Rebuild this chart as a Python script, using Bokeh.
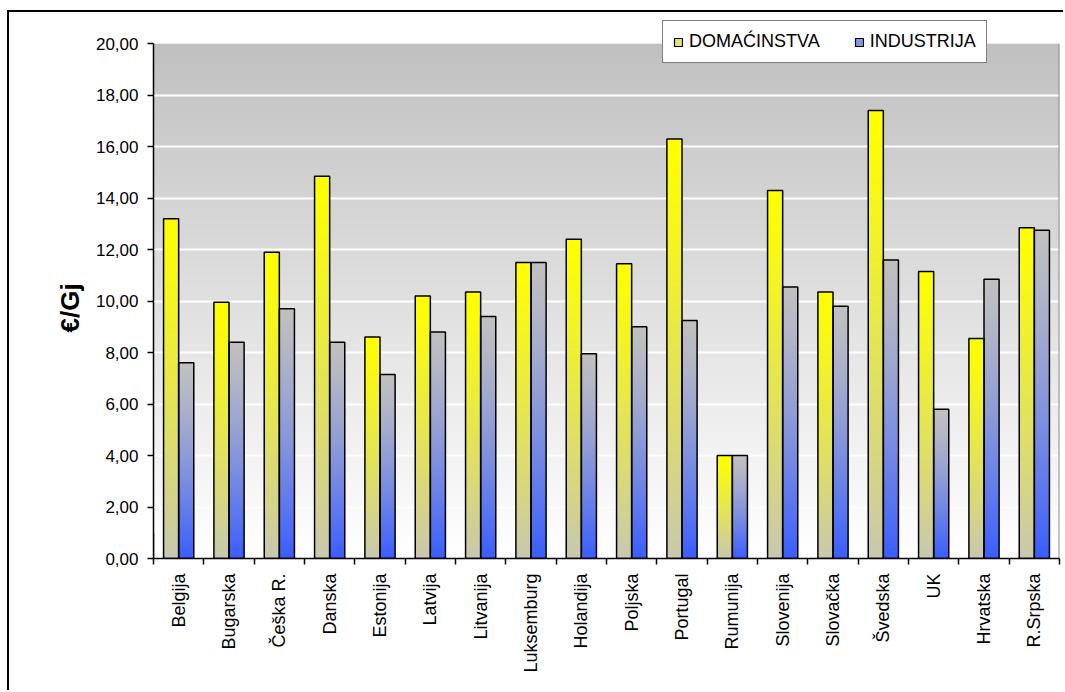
import math
import numpy as np
from bokeh.plotting import figure
from bokeh.models import Range1d, FixedTicker, Legend, LegendItem, Title
from bokeh.embed import file_html
from bokeh.resources import INLINE

# Gas prices by country, €/GJ
categories = ["Belgija", "Bugarska", "Češka R.", "Danska", "Estonija", "Latvija",
              "Litvanija", "Luksemburg", "Holandija", "Poljska", "Portugal", "Rumunija",
              "Slovenija", "Slovačka", "Švedska", "UK", "Hrvatska", "R.Srpska"]
domacinstva = [13.20, 9.95, 11.90, 14.85, 8.60, 10.20, 10.35, 11.50, 12.40, 11.45,
               16.30, 4.00, 14.30, 10.35, 17.40, 11.15, 8.55, 12.85]
industrija = [7.60, 8.40, 9.70, 8.40, 7.15, 8.80, 9.40, 11.50, 7.95, 9.00,
              9.25, 4.00, 10.55, 9.80, 11.60, 5.80, 10.85, 12.75]
series_names = ["DOMAĆINSTVA", "INDUSTRIJA"]
y_ticks = [0, 2, 4, 6, 8, 10, 12, 14, 16, 18, 20]
y_tick_labels = ["0,00", "2,00", "4,00", "6,00", "8,00", "10,00",
                 "12,00", "14,00", "16,00", "18,00", "20,00"]
y_title = "€/Gj"

FONT = "Liberation Sans"
BAR_W = 0.3
Y_MAX = 20
Y_TOP = 20.9  # head room above the plot area for the legend box


def gradient(top, bottom, n=256, gamma=1.0):
    """Vertical RGBA gradient, row 0 at the bottom."""
    t = np.linspace(0.0, 1.0, n) ** gamma  # 0 at top .. 1 at bottom
    t = t[::-1]
    top = np.array(top, dtype=float)
    bottom = np.array(bottom, dtype=float)
    cols = top[None, :] + (bottom - top)[None, :] * t[:, None]
    img = np.empty((n, 1), dtype=np.uint32)
    view = img.view(dtype=np.uint8).reshape((n, 1, 4))
    view[:, 0, 0] = cols[:, 0].round()
    view[:, 0, 1] = cols[:, 1].round()
    view[:, 0, 2] = cols[:, 2].round()
    view[:, 0, 3] = 255
    return img


n = len(categories)
idx = np.arange(n)

p = figure(width=1056, height=680, output_backend="svg", toolbar_location=None,
           x_range=Range1d(-0.5, n - 0.5), y_range=Range1d(0, Y_TOP),
           min_border_left=144, min_border_right=6, min_border_top=8,
           min_border_bottom=134)
p.background_fill_color = "white"
p.border_fill_color = "white"
p.outline_line_color = None
# chart border on the top and left edges of the page element
p.styles = {"margin-left": "7px", "margin-top": "10px",
            "border-left": "2px solid black", "border-top": "2px solid black"}

# plot-area background: grey at the top fading to white
bg = gradient((192, 192, 192), (255, 255, 255))
p.image_rgba(image=[bg], x=-0.5, y=0, dw=n, dh=Y_MAX, level="image")
# right edge of the plot area
p.segment(x0=[n - 0.5], y0=[0], x1=[n - 0.5], y1=[Y_MAX],
          line_color="#8c8c8c", line_width=2)

# bars with vertical gradients
yel = gradient((255, 255, 0), (200, 200, 176), gamma=1.15)
blu = gradient((192, 192, 192), (58, 94, 255), gamma=1.3)
x_dom = idx - BAR_W
x_ind = idx.astype(float)
p.image_rgba(image=[yel] * n, x=list(x_dom), y=[0] * n, dw=[BAR_W] * n, dh=domacinstva)
p.image_rgba(image=[blu] * n, x=list(x_ind), y=[0] * n, dw=[BAR_W] * n, dh=industrija)
p.vbar(x=list(x_dom + BAR_W / 2), width=BAR_W, top=domacinstva,
       fill_color=None, line_color="black", line_width=1.5)
p.vbar(x=list(x_ind + BAR_W / 2), width=BAR_W, top=industrija,
       fill_color=None, line_color="black", line_width=1.5)

# legend swatches (one off-screen sample each, used only by the legend)
r_dom = p.vbar(x=[-10], top=[1], width=BAR_W, fill_color="#e2e26c",
               line_color="black", line_width=1.2)
r_ind = p.vbar(x=[-10], top=[1], width=BAR_W, fill_color="#8396e4",
               line_color="black", line_width=1.2)
legend = Legend(items=[LegendItem(label=series_names[0], renderers=[r_dom]),
                       LegendItem(label=series_names[1], renderers=[r_ind])],
                orientation="horizontal", location=(509, 495),
                border_line_color="black", border_line_width=1.5,
                background_fill_color="white", background_fill_alpha=1.0,
                label_text_font=FONT, label_text_font_size="18px",
                label_text_color="black", glyph_width=10, glyph_height=10,
                padding=10, spacing=34, label_standoff=6, margin=0)
p.add_layout(legend)

# grid
p.xgrid.visible = False
p.ygrid.ticker = FixedTicker(ticks=y_ticks[1:-1])
p.ygrid.grid_line_color = "white"
p.ygrid.grid_line_width = 2

# y axis
ya = p.yaxis[0]
ya.bounds = (0, Y_MAX)
ya.ticker = FixedTicker(ticks=y_ticks)
ya.major_label_overrides = dict(zip(y_ticks, y_tick_labels))
ya.major_label_text_font = FONT
ya.major_label_text_font_size = "17px"
ya.major_label_text_color = "black"
ya.major_tick_out = 6
ya.major_tick_in = 0
ya.minor_tick_line_color = None
ya.axis_line_color = "black"
ya.axis_line_width = 1.5
ya.major_tick_line_color = "black"
ya.major_tick_line_width = 1.5
ya.major_label_standoff = 9

# y axis title, placed along the plot area (below the legend head room)
p.add_layout(Title(text=y_title, align="left", offset=226, standoff=15,
                   text_font=FONT, text_font_style="bold", text_font_size="26px",
                   text_color="black"), "left")

# x axis: labels at category centres, ticks on the boundaries
xa = p.xaxis[0]
xa.ticker = FixedTicker(ticks=list(idx), minor_ticks=[i - 0.5 for i in range(n + 1)])
xa.major_label_overrides = {int(i): c for i, c in zip(idx, categories)}
xa.major_label_orientation = math.pi / 2
xa.major_label_text_font = FONT
xa.major_label_text_font_size = "18px"
xa.major_label_text_color = "black"
xa.major_tick_line_color = None
xa.major_tick_out = 0
xa.major_tick_in = 0
xa.minor_tick_out = 6
xa.minor_tick_in = 0
xa.minor_tick_line_color = "black"
xa.minor_tick_line_width = 1.5
xa.axis_line_color = "black"
xa.axis_line_width = 1.5
xa.major_label_standoff = 9

open("out.html", "w").write(file_html(p, INLINE))
